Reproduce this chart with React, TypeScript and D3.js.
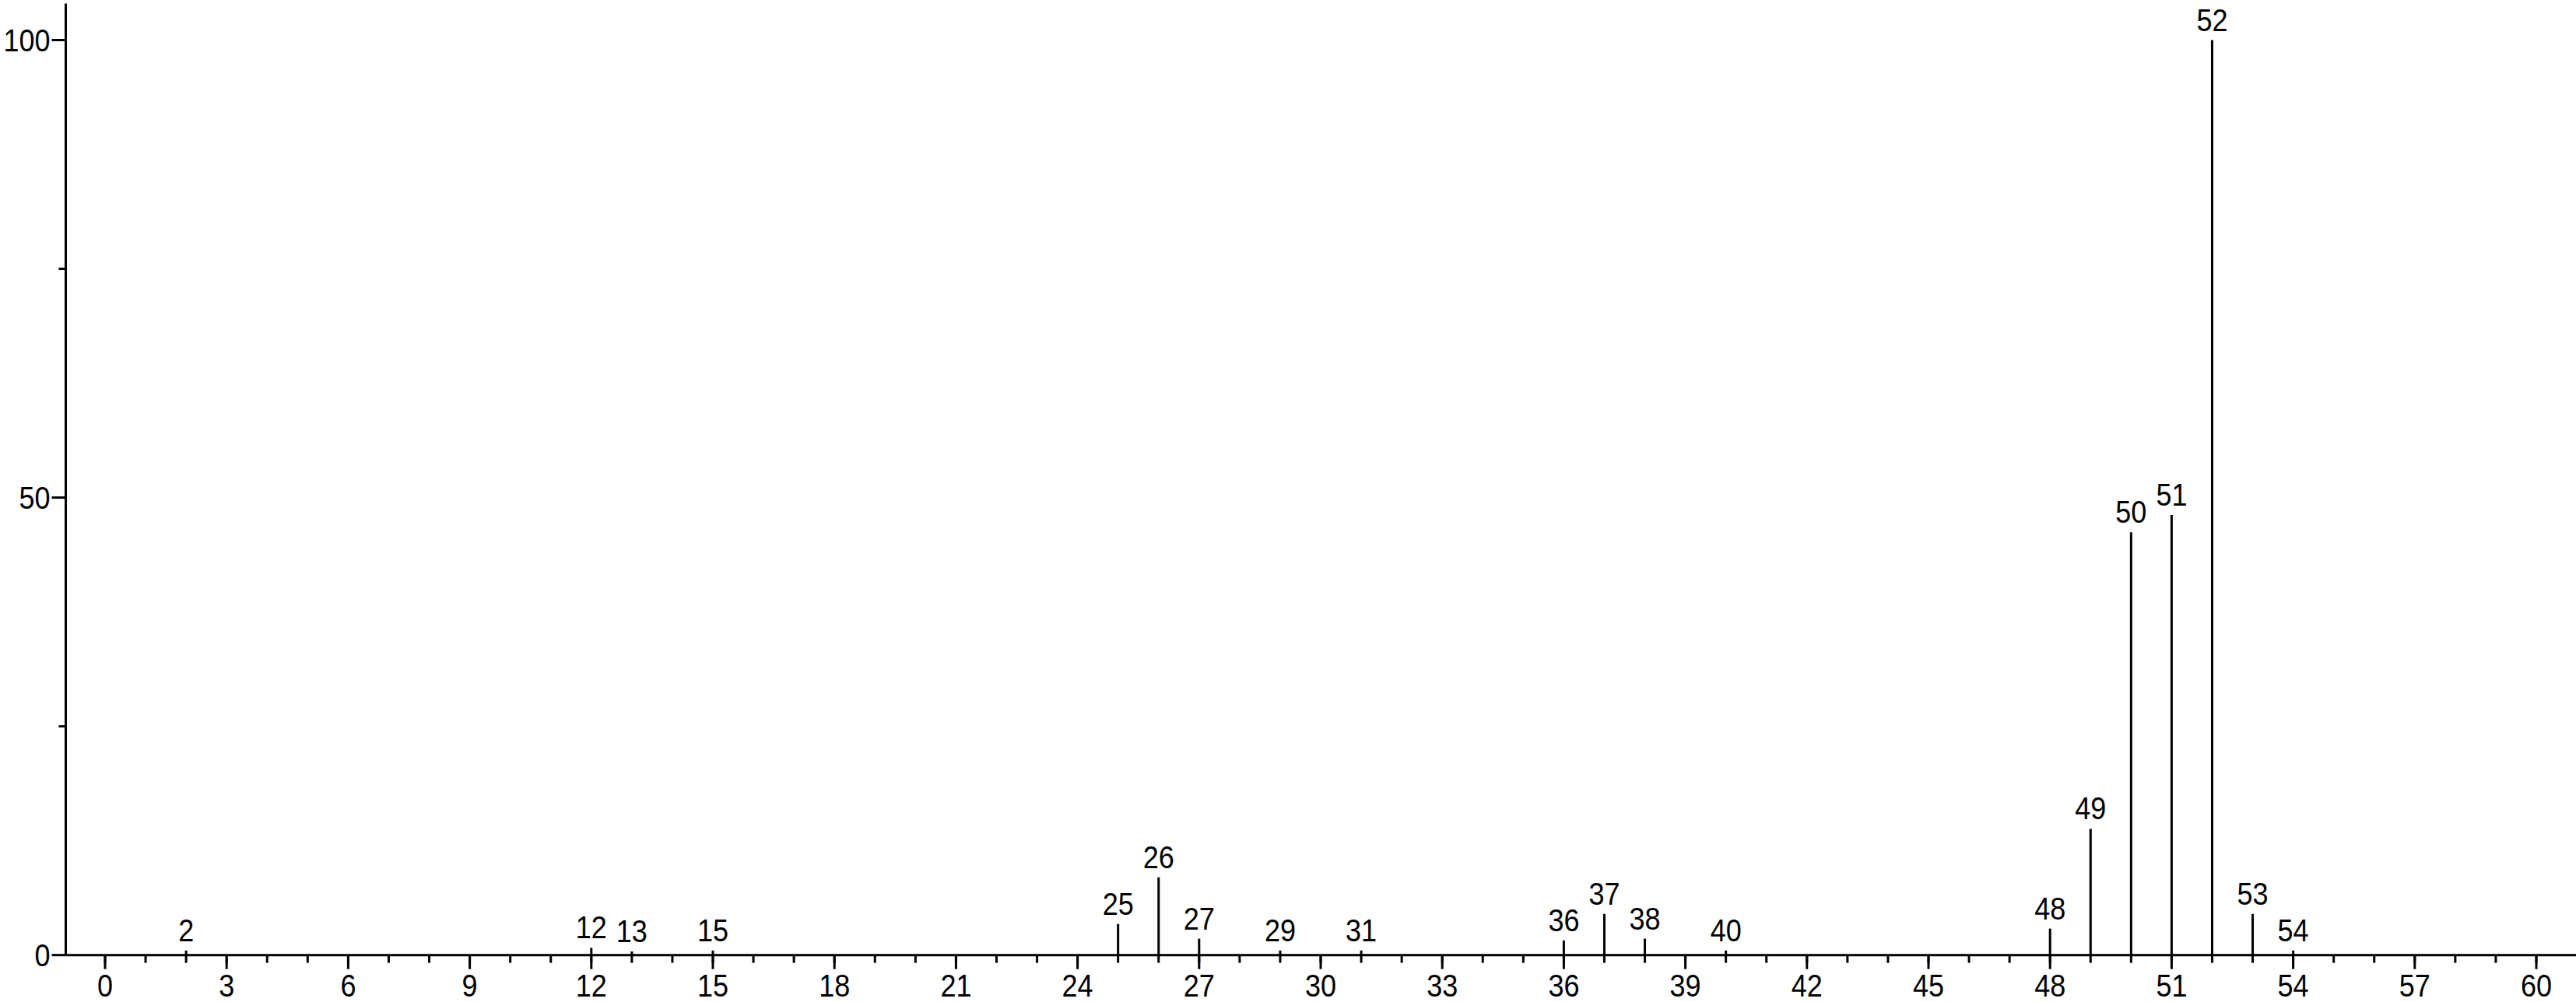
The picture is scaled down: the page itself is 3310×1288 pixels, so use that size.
import React from "react";
import * as d3 from "d3";

const mzValues = [2, 12, 13, 15, 25, 26, 27, 29, 31, 36, 37, 38, 40, 48, 49, 50, 51, 52, 53, 54];
const intensities = [0.5, 0.8, 0.4, 0.5, 3.4, 8.5, 1.8, 0.5, 0.5, 1.6, 4.5, 1.8, 0.5, 2.9, 13.8, 46.2, 48.1, 100, 4.5, 0.5];
const xMajorTicks = d3.range(0, 61, 3);
const xMinorTicks = d3.range(0, 61, 1);
const yMajorTicks = [0, 50, 100];
const yMinorTicks = [25, 75];

const W = 3310;
const H = 1288;
const FONT = "'Liberation Sans', Arial, sans-serif";

function Label({ x, y, anchor, children }: { x: number; y: number; anchor: string; children: React.ReactNode }) {
  return (
    <text
      transform={`translate(${x},${y}) scale(0.9,1)`}
      textAnchor={anchor}
      fontSize={40}
      fill="#000"
    >
      {children}
    </text>
  );
}

export default function App() {
  const x = d3.scaleLinear().domain([0, 60]).range([135, 3259]);
  const y = d3.scaleLinear().domain([0, 100]).range([1227.7, 51.5]);
  const x0 = x(-0.97);
  const yTop = y(104);
  const y0 = y(0);
  const peaks = mzValues.map((m, i) => ({ m, v: intensities[i] }));
  return (
    <svg
      width={W}
      height={H}
      style={{ position: "absolute", left: 0, top: 0, background: "#fff" }}
      fontFamily={FONT}
    >
      <rect x={0} y={0} width={W} height={H} fill="#fff" />
      {/* y axis */}
      <line x1={x0} x2={x0} y1={yTop} y2={y0} stroke="#000" strokeWidth={3} />
      {yMajorTicks.map((t) => (
        <g key={"ym" + t}>
          <line x1={x0 - 18} x2={x0} y1={y(t)} y2={y(t)} stroke="#000" strokeWidth={3} />
          <Label x={x0 - 20} y={y(t) + 14} anchor="end">
            {t}
          </Label>
        </g>
      ))}
      {yMinorTicks.map((t) => (
        <line key={"yn" + t} x1={x0 - 9} x2={x0} y1={y(t)} y2={y(t)} stroke="#000" strokeWidth={3} />
      ))}
      {/* x axis */}
      <line x1={x0} x2={W} y1={y0} y2={y0} stroke="#000" strokeWidth={3} />
      {xMinorTicks.map((t) => (
        <line key={"xn" + t} x1={x(t)} x2={x(t)} y1={y0} y2={y0 + 10} stroke="#000" strokeWidth={3} />
      ))}
      {xMajorTicks.map((t) => (
        <g key={"xm" + t}>
          <line x1={x(t)} x2={x(t)} y1={y0} y2={y0 + 18} stroke="#000" strokeWidth={3} />
          <Label x={x(t)} y={y0 + 53} anchor="middle">
            {t}
          </Label>
        </g>
      ))}
      {/* peaks */}
      {peaks.map((p) => (
        <g key={"p" + p.m}>
          <line x1={x(p.m)} x2={x(p.m)} y1={y0} y2={y(p.v)} stroke="#000" strokeWidth={3} />
          <Label x={x(p.m)} y={y(p.v) - 12} anchor="middle">
            {p.m}
          </Label>
        </g>
      ))}
    </svg>
  );
}
